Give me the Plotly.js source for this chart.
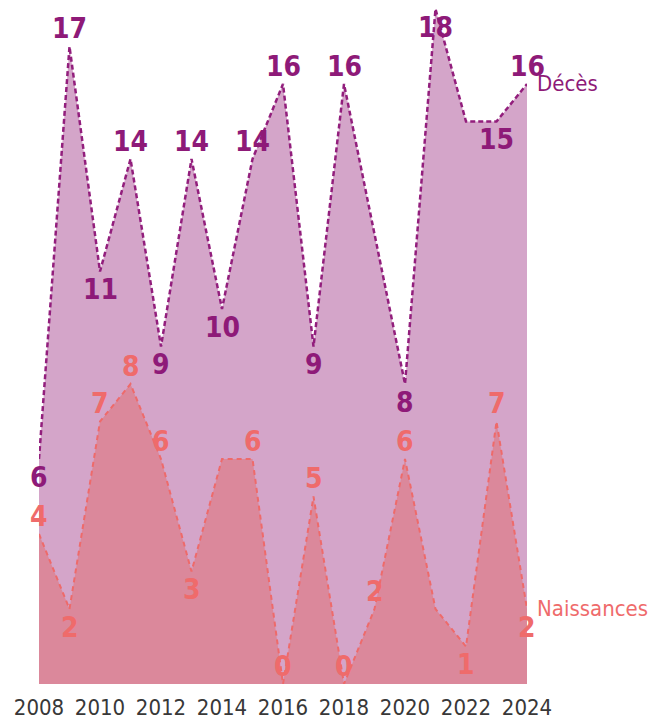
<!DOCTYPE html>
<html>
<head>
<meta charset="utf-8">
<script src="https://cdn.plot.ly/plotly-3.0.1.min.js"></script>
<style>html,body{margin:0;padding:0;background:#fff;}#chart{width:650px;height:719px;}</style>
</head>
<body>
<div id="chart"></div>
<script>
const years = [2008,2009,2010,2011,2012,2013,2014,2015,2016,2017,2018,2019,2020,2021,2022,2023,2024];
const deces = [6,17,11,14,9,14,10,14,16,9,16,12,8,18,15,15,16];
const naissances = [4,2,7,8,6,3,6,6,0,5,0,2,6,2,1,7,2];
const tickYears = [2008,2010,2012,2014,2016,2018,2020,2022,2024];
const seriesNames = ["Décès","Naissances"];

// label placement (style): t = above, b = below, '' = hidden
const decesPos = ['b','t','b','t','b','t','b','t','t','b','t','','b','b','','b','t'];
const naisPos  = ['t','b','t','t','t','b','','t','t','t','t','t','t','','b','t','b'];

const FONT = '"DejaVu Sans Condensed", "Liberation Sans Narrow", "Roboto", sans-serif';
const cDecLine = '#921e7c', cDecFill = '#d4a5c9', cDecText = '#8e1a78';
const cNaiLine = '#ee6a6a', cNaiFill = '#db889b', cNaiText = '#ef6b6b';
const LABEL_SIZE = 28, LABEL_OFF = 18;

const traces = [
  {
    x: years, y: deces, type: 'scatter', mode: 'lines',
    fill: 'tozeroy', fillcolor: cDecFill,
    line: {color: cDecLine, width: 2.5, dash: '5px,3px'},
    hoverinfo: 'skip', name: seriesNames[0]
  },
  {
    x: years, y: naissances, type: 'scatter', mode: 'lines',
    fill: 'tozeroy', fillcolor: cNaiFill,
    line: {color: cNaiLine, width: 2, dash: '5px,4px'},
    hoverinfo: 'skip', name: seriesNames[1]
  }
];

function labelAnns(vals, pos, color){
  const out = [];
  vals.forEach((v,i)=>{
    if(!pos[i]) return;
    out.push({x: years[i], y: v, xref: 'x', yref: 'y', text: String(v), showarrow: false,
      xanchor: 'center', yanchor: 'middle', yshift: pos[i]==='t' ? LABEL_OFF : -LABEL_OFF,
      font: {family: FONT, size: LABEL_SIZE, color: color, weight: 'bold'}});
  });
  return out;
}

const last = years.length - 1;
const layout = {
  width: 650, height: 719,
  margin: {l: 39, r: 123, t: 9, b: 35},
  paper_bgcolor: '#fff', plot_bgcolor: '#fff',
  showlegend: false,
  xaxis: {
    range: [years[0], years[last]], tickvals: tickYears, ticktext: tickYears.map(String),
    showgrid: false, zeroline: false, showline: false,
    ticks: 'outside', ticklen: 4, tickcolor: 'rgba(0,0,0,0)',
    tickfont: {family: FONT, size: 22, color: '#383838'}
  },
  yaxis: {range: [0, 18], visible: false, showgrid: false, zeroline: false},
  annotations: [].concat(
    labelAnns(deces, decesPos, cDecText),
    labelAnns(naissances, naisPos, cNaiText),
    [
      {x: years[last], y: deces[last], xref: 'x', yref: 'y', text: seriesNames[0],
       showarrow: false, xanchor: 'left', yanchor: 'middle', xshift: 8, yshift: 1,
       font: {family: FONT, size: 22, color: cDecText}},
      {x: years[last], y: naissances[last], xref: 'x', yref: 'y', text: seriesNames[1],
       showarrow: false, xanchor: 'left', yanchor: 'middle', xshift: 8, yshift: 1,
       font: {family: FONT, size: 22, color: cNaiText}}
    ])
};

Plotly.newPlot('chart', traces, layout, {displayModeBar: false, staticPlot: true});
</script>
</body>
</html>
